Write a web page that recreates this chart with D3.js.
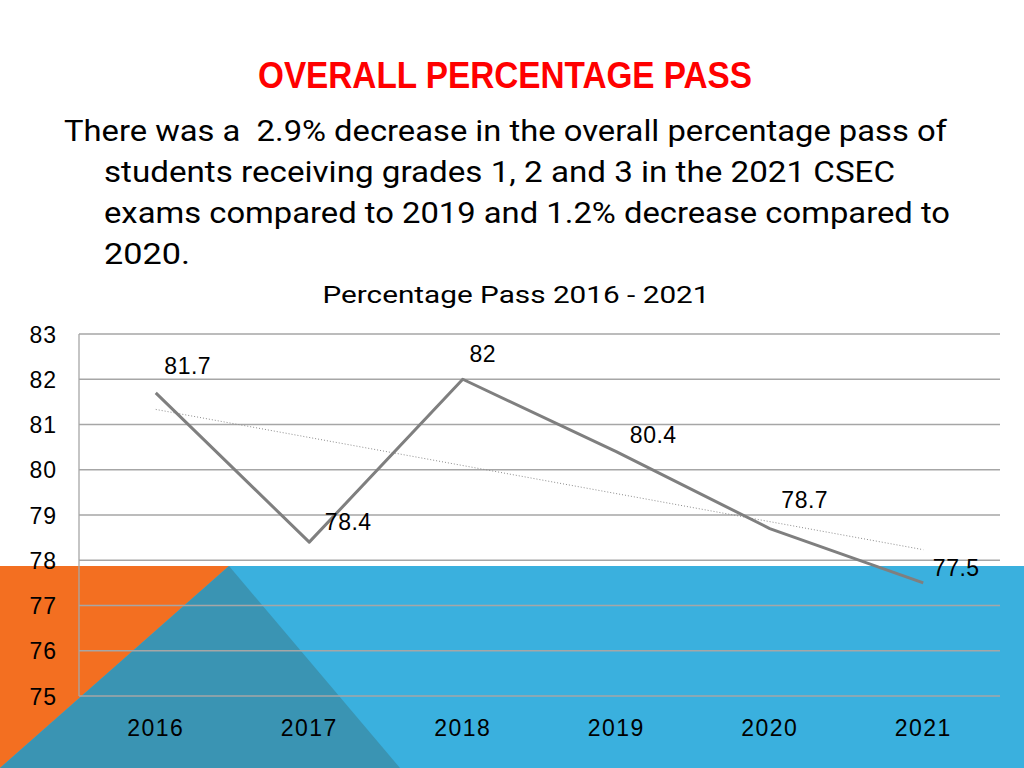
<!DOCTYPE html>
<html><head><meta charset="utf-8">
<script src="https://cdn.jsdelivr.net/npm/d3@7/dist/d3.min.js"></script>
<style>
html,body{margin:0;padding:0;background:#fff;}
svg{display:block;}
</style></head>
<body>
<svg id="c" width="1024" height="768"></svg>
<script>
const years = ["2016","2017","2018","2019","2020","2021"];
const passRates = [81.7, 78.4, 82, 80.4, 78.7, 77.5];
const yTicks = [75, 76, 77, 78, 79, 80, 81, 82, 83];
const titleText = "OVERALL PERCENTAGE PASS";
const bodyLines = [
  "There was a  2.9% decrease in the overall percentage pass of",
  "students receiving grades 1, 2 and 3 in the 2021 CSEC",
  "exams compared to 2019 and 1.2% decrease compared to",
  "2020."
];
const chartTitle = "Percentage Pass 2016 - 2021";
// label offsets (layout only)
const labelOffsets = [[32,-27],[39,-20],[20,-25],[37,-17],[35,-29],[33,-15]];

const svg = d3.select("#c");
const chartFont = "Liberation Sans, Arial, sans-serif";
const bodyFont = "Roboto, Open Sans, Liberation Sans, sans-serif";

// background shapes
svg.append("rect").attr("x",0).attr("y",566).attr("width",1024).attr("height",202).attr("fill","#3AB0DE");
svg.append("polygon").attr("points","0,566 229,566 0,768").attr("fill","#F36F21");
svg.append("polygon").attr("points","229,566 0,768 400,768").attr("fill","#3A94B3");

// title
svg.append("text").attr("x",505).attr("y",88).attr("text-anchor","middle")
  .attr("font-family","Liberation Sans Narrow, Liberation Sans, Arial, sans-serif").attr("font-weight","bold")
  .attr("font-size",37).attr("fill","#FF0000")
  .attr("textLength",494).attr("lengthAdjust","spacingAndGlyphs").text(titleText);

// body text
const bodyX = [64,104,104,104];
const bodyY = [141,182,223,264];
const bodyW = [883,791,846,86];
bodyLines.forEach((t,i)=>{
  svg.append("text").attr("x",bodyX[i]).attr("y",bodyY[i])
    .style("white-space","pre")
    .attr("font-family",bodyFont).attr("font-size",29)
    .attr("fill","#000").attr("textLength",bodyW[i]).attr("lengthAdjust","spacingAndGlyphs").text(t);
});

// chart title
svg.append("text").attr("x",516).attr("y",303).attr("text-anchor","middle")
  .attr("font-family",bodyFont).attr("font-size",24)
  .attr("fill","#000").attr("textLength",387).attr("lengthAdjust","spacingAndGlyphs").text(chartTitle);

// scales
const x = d3.scaleBand().domain(years).range([79,1000]).padding(0);
const y = d3.scaleLinear().domain([75,83]).range([696,334]);
const cx = d => x(d) + x.bandwidth()/2;

// gridlines
svg.append("g").selectAll("line").data(yTicks).join("line")
  .attr("x1",79).attr("x2",1000).attr("y1",d=>y(d)).attr("y2",d=>y(d))
  .attr("stroke","#A6A6A6").attr("stroke-width",1.3);
// left axis line
svg.append("line").attr("x1",79).attr("x2",79).attr("y1",334).attr("y2",696)
  .attr("stroke","#A6A6A6").attr("stroke-width",1.3);

// y tick labels
const yAxis = d3.axisLeft(y).tickValues(yTicks).tickSize(0).tickPadding(0);
const ya = svg.append("g").attr("transform","translate(57,0)").call(yAxis);
ya.select(".domain").remove();
ya.selectAll("text").attr("font-family",chartFont).attr("font-size",23).attr("letter-spacing",1)
  .attr("fill","#000").attr("dy","0.35em");

// x tick labels
const xAxis = d3.axisBottom(x).tickSize(0).tickPadding(0);
const xa = svg.append("g").attr("transform","translate(0,728)").call(xAxis);
xa.select(".domain").remove();
xa.selectAll("text").attr("font-family",chartFont).attr("font-size",23).attr("letter-spacing",1.5)
  .attr("fill","#000").attr("dy","0.35em");

// trendline (linear regression computed from data)
const n = passRates.length;
const xs = d3.range(n);
const mx = d3.mean(xs), my = d3.mean(passRates);
const slope = d3.sum(xs,(v,i)=>(v-mx)*(passRates[i]-my))/d3.sum(xs,v=>(v-mx)*(v-mx));
const icpt = my - slope*mx;
svg.append("line")
  .attr("x1",cx(years[0])).attr("y1",y(icpt))
  .attr("x2",cx(years[n-1])).attr("y2",y(icpt+slope*(n-1)))
  .attr("stroke","#8C8C8C").attr("stroke-width",1).attr("stroke-dasharray","1,2");

// data line
const line = d3.line().x((d,i)=>cx(years[i])).y(d=>y(d));
svg.append("path").datum(passRates).attr("d",line)
  .attr("fill","none").attr("stroke","#7F7F7F").attr("stroke-width",3).attr("stroke-linejoin","round");

// data labels
svg.append("g").selectAll("text").data(passRates).join("text")
  .attr("x",(d,i)=>cx(years[i])+labelOffsets[i][0])
  .attr("y",(d,i)=>y(d)+labelOffsets[i][1])
  .attr("dy","0.35em").attr("text-anchor","middle")
  .attr("font-family",chartFont).attr("font-size",23).attr("letter-spacing",0.5).attr("fill","#000")
  .text(d=>d);
</script>
</body></html>
